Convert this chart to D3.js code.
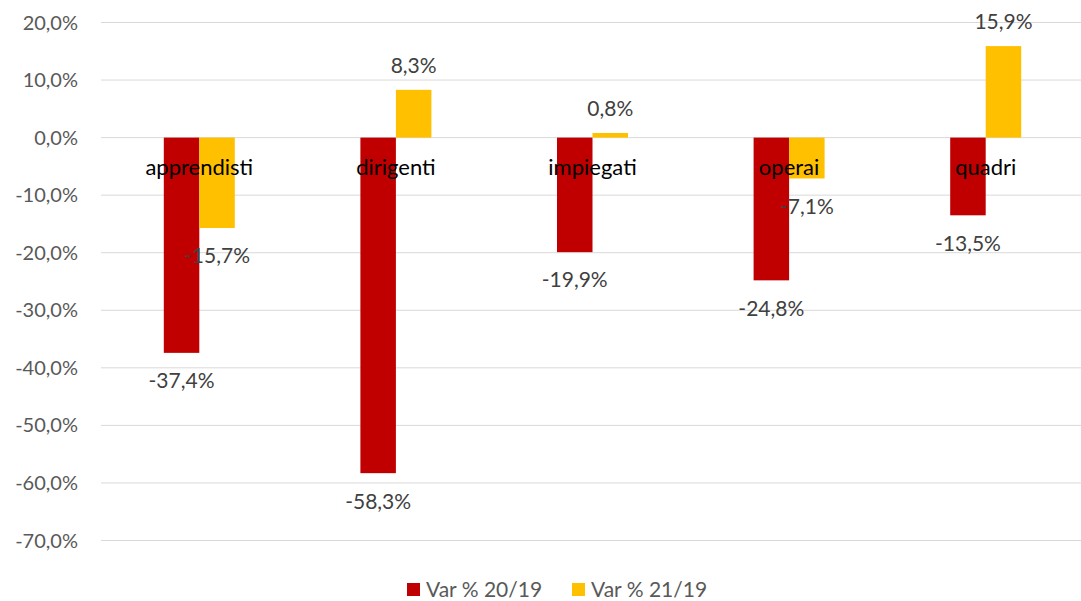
<!DOCTYPE html>
<html>
<head>
<meta charset="utf-8">
<script src="https://cdn.jsdelivr.net/npm/d3@7"></script>
<style>
  body { margin: 0; background: #fff; }
  svg { font-family: Lato, "Liberation Sans", sans-serif; }
</style>
</head>
<body>
<svg width="1081" height="601"></svg>
<script>
// categories and series
const categories = ["apprendisti", "dirigenti", "impiegati", "operai", "quadri"];
const seriesNames = ["Var % 20/19", "Var % 21/19"];
const var2019 = [-37.4, -58.3, -19.9, -24.8, -13.5];
const var2119 = [-15.7, 8.3, 0.8, -7.1, 15.9];
const yTicks = [20, 10, 0, -10, -20, -30, -40, -50, -60, -70];
const colors = ["#C00000", "#FFC000"];

const svg = d3.select("svg");

const plotLeft = 101, plotRight = 1084, plotTop = 22.5, plotBottom = 540.5;

const x = d3.scaleBand().domain(categories).range([plotLeft, plotRight]);
const xs = d3.scaleBand().domain([0, 1]).range([0, 71]);
const y = d3.scaleLinear().domain([20, -70]).range([plotTop, plotBottom]);

const fmt = (v) => v.toFixed(1).replace(".", ",") + "%";

// gridlines
svg.append("g")
  .selectAll("line")
  .data(yTicks)
  .enter()
  .append("line")
  .attr("x1", plotLeft)
  .attr("x2", plotRight)
  .attr("y1", (d) => y(d))
  .attr("y2", (d) => y(d))
  .attr("stroke", "#d9d9d9")
  .attr("stroke-width", 1);

// y axis labels
svg.append("g")
  .selectAll("text")
  .data(yTicks)
  .enter()
  .append("text")
  .attr("x", 78)
  .attr("y", (d) => y(d))
  .attr("dy", "0.35em")
  .attr("text-anchor", "end")
  .attr("fill", "#595959")
  .attr("font-size", "20px")
  .text(fmt);

const series = [var2019, var2119];

// bars
series.forEach((vals, s) => {
  svg.append("g")
    .selectAll("rect")
    .data(vals)
    .enter()
    .append("rect")
    .attr("x", (d, i) => x(categories[i]) + x.bandwidth() / 2 - 35.5 + xs(s))
    .attr("width", xs.bandwidth())
    .attr("y", (d) => y(Math.max(0, d)))
    .attr("height", (d) => Math.abs(y(d) - y(0)))
    .attr("fill", colors[s]);
});

// category labels
svg.append("g")
  .selectAll("text")
  .data(categories)
  .enter()
  .append("text")
  .attr("x", (d) => x(d) + x.bandwidth() / 2)
  .attr("y", 175)
  .attr("text-anchor", "middle")
  .attr("fill", "#000")
  .attr("font-size", "22px")
  .text((d) => d);

// data labels
series.forEach((vals, s) => {
  svg.append("g")
    .selectAll("text")
    .data(vals)
    .enter()
    .append("text")
    .attr("x", (d, i) => x(categories[i]) + x.bandwidth() / 2 - 35.5 + xs(s) + xs.bandwidth() / 2)
    .attr("y", (d) => (d < 0 ? y(d) + 28 : y(d) - 24))
    .attr("dy", "0.35em")
    .attr("text-anchor", "middle")
    .attr("fill", "#404040")
    .attr("font-size", "21px")
    .text(fmt);
});

// legend
const legendX = [407, 572];
const legend = svg.append("g")
  .selectAll("g")
  .data(seriesNames)
  .enter()
  .append("g")
  .attr("transform", (d, i) => `translate(${legendX[i]},583)`);

legend.append("rect")
  .attr("width", 13)
  .attr("height", 13)
  .attr("fill", (d, i) => colors[i]);

legend.append("text")
  .attr("x", 19)
  .attr("y", 6.5)
  .attr("dy", "0.35em")
  .attr("fill", "#595959")
  .attr("font-size", "21px")
  .text((d) => d);
</script>
</body>
</html>
